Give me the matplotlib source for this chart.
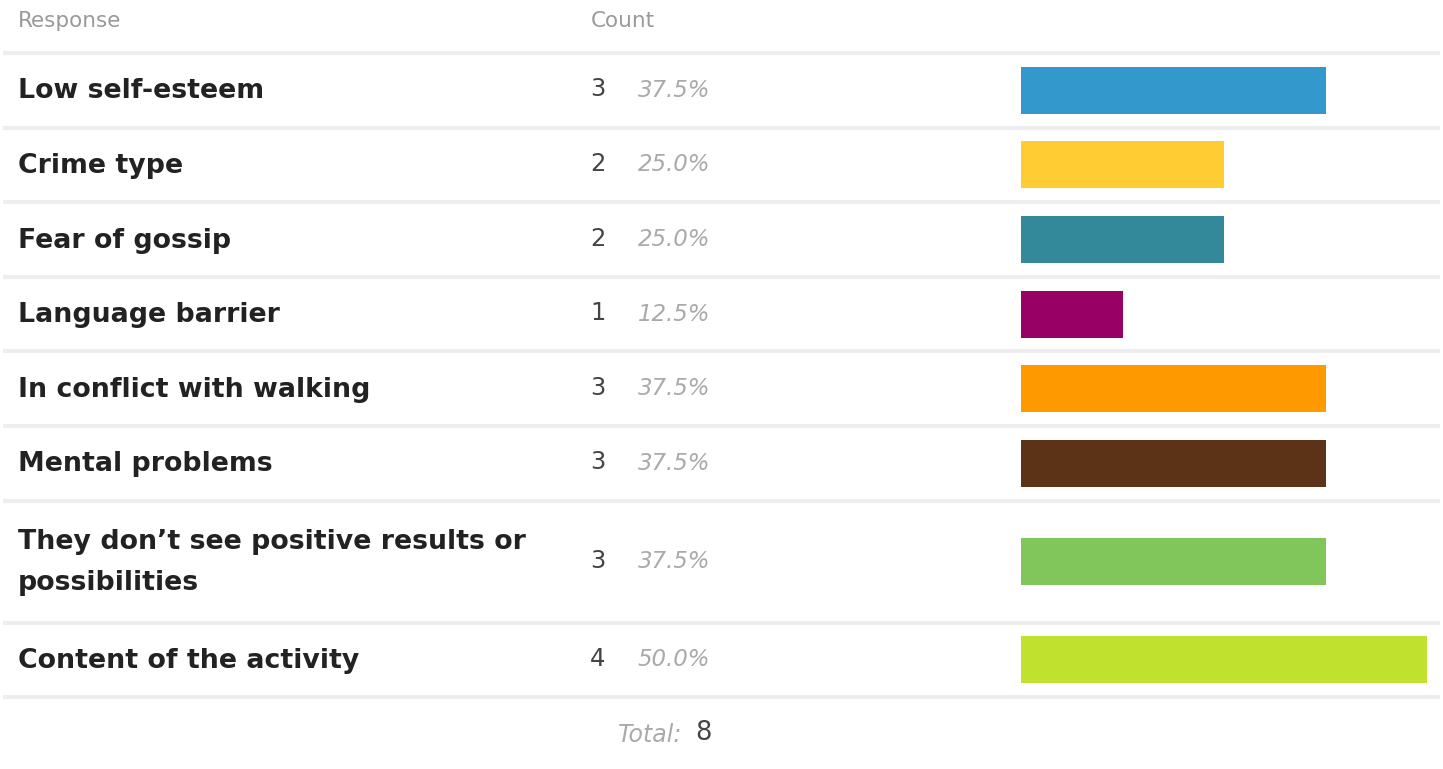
import matplotlib
matplotlib.use("Agg")
import matplotlib.pyplot as plt

# data
responses = [
    "Low self-esteem",
    "Crime type",
    "Fear of gossip",
    "Language barrier",
    "In conflict with walking",
    "Mental problems",
    "They don\u2019t see positive results or\npossibilities",
    "Content of the activity",
]
counts = [3, 2, 2, 1, 3, 3, 3, 4]
total = 8
colors = ["#3399cc", "#ffcc33", "#338899", "#990066",
          "#ff9900", "#5c3317", "#80c65a", "#c0e22e"]

W, H = 1443, 769
fig = plt.figure(figsize=(W / 100, H / 100), dpi=100)
ax = fig.add_axes([0, 0, 1, 1])
ax.set_xlim(0, W)
ax.set_ylim(H, 0)
ax.axis("off")

# row layout in pixels
top = 53
row_h = 74.6
tall_h = 122
heights = [tall_h if "\n" in r else row_h for r in responses]
edges = [top]
for h in heights:
    edges.append(edges[-1] + h)
centers = [(edges[i] + edges[i + 1]) / 2 for i in range(len(responses))]

# header
ax.text(18, 21, "Response", fontsize=15.5, color="#9a9a9a", va="center", ha="left")
ax.text(591, 21, "Count", fontsize=15.5, color="#9a9a9a", va="center", ha="left")

for y in edges:
    ax.plot([3, 1440], [y, y], color="#eeeeee", lw=3, solid_capstyle="butt")

for i, (r, c) in enumerate(zip(responses, counts)):
    yc = centers[i]
    ax.text(18, yc + 1, r, fontsize=19.3, fontweight="bold", color="#222222",
            va="center", ha="left", linespacing=1.75)
    ax.text(598, yc - 1, str(c), fontsize=17.5, color="#444444", va="center", ha="center")
    ax.text(638, yc, "%.1f%%" % (100.0 * c / total), fontsize=16.5, color="#aaaaaa",
            style="italic", va="center", ha="left")

ax.text(682, 735, "Total:", fontsize=17, color="#aaaaaa", style="italic",
        va="center", ha="right")
ax.text(703, 733, str(total), fontsize=18.5, color="#444444", va="center", ha="center")

# bars on their own axes: count 0 at x=1021, 4 at x=1427
bx0, bx1 = 1021, 1427
k = (bx1 - bx0) / max(counts)
bax = fig.add_axes([0, 0, 1, 1])
bax.set_xlim(-bx0 / k, (W - bx0) / k)
bax.set_ylim(H, 0)
bax.axis("off")
bax.barh(centers, counts, height=47, left=0, color=colors)

fig.savefig("out.png", dpi=100)
